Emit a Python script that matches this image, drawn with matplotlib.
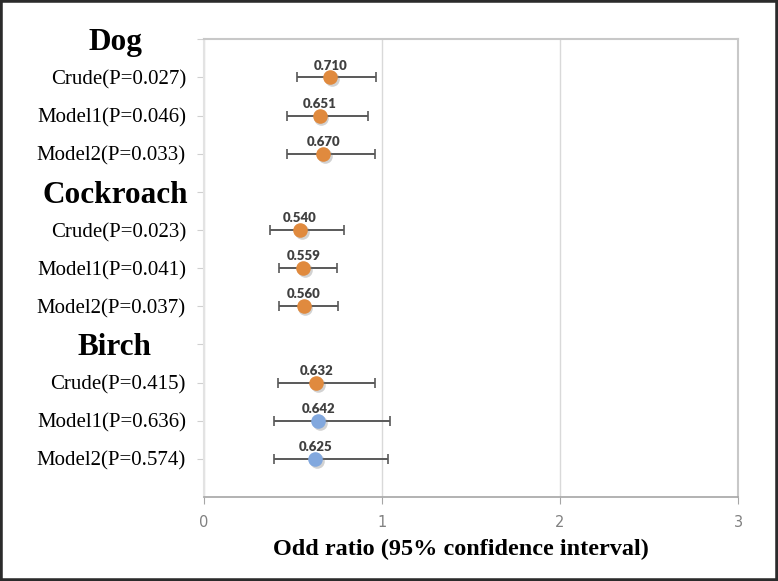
import matplotlib.pyplot as plt
from matplotlib.patches import Rectangle
import matplotlib.transforms as mtransforms

# allergen groups (headers) and rows below them
groups = ['Dog', 'Cockroach', 'Birch']
row_labels = ['Crude(P=0.027)', 'Model1(P=0.046)', 'Model2(P=0.033)',
              'Crude(P=0.023)', 'Model1(P=0.041)', 'Model2(P=0.037)',
              'Crude(P=0.415)', 'Model1(P=0.636)', 'Model2(P=0.574)']
odds = [0.710, 0.651, 0.670, 0.540, 0.559, 0.560, 0.632, 0.642, 0.625]
ci_low = [0.523, 0.464, 0.467, 0.372, 0.422, 0.419, 0.415, 0.393, 0.393]
ci_high = [0.969, 0.920, 0.963, 0.787, 0.746, 0.753, 0.959, 1.047, 1.036]
significant = [True, True, True, True, True, True, True, False, False]

orange = '#E08A3E'
blue = '#82A8DE'

fig = plt.figure(figsize=(7.78, 5.81), dpi=100)
ax = fig.add_axes([0.2622, 0.1446, 0.6864, 0.7878])

# y positions: header of each group on top, 3 rows under it
n_rows = len(groups) * 4
header_y = []
row_y = []
for g in range(len(groups)):
    top = n_rows - g * 4
    header_y.append(top)
    row_y += [top - 1, top - 2, top - 3]

shadow = mtransforms.offset_copy(ax.transData, fig=fig, x=1.5, y=-2, units='dots')

for i in range(len(odds)):
    y = row_y[i]
    ax.errorbar(odds[i], y, xerr=[[odds[i] - ci_low[i]], [ci_high[i] - odds[i]]],
                fmt='none', ecolor='#595959', elinewidth=1.4, capsize=3.5,
                capthick=1.2, zorder=3)
    ax.plot(odds[i], y, 'o', ms=10.5, color='#7f7f7f', alpha=0.35, mec='none',
            transform=shadow, zorder=4)
    ax.plot(odds[i], y, 'o', ms=10.5, color=orange if significant[i] else blue,
            mec='none', zorder=5)
    ax.annotate('%.3f' % odds[i], (odds[i], y), xytext=(0, 8.5),
                textcoords='offset points', ha='center', va='center',
                fontsize=9.5, fontweight='heavy', family='Lato', color='#404040')

for g, name in enumerate(groups):
    ax.text(-0.5, header_y[g], name, ha='center', va='center_baseline',
            fontsize=22.5, fontweight='bold', family='Liberation Serif',
            clip_on=False)

ax.set_xlim(0, 3)
ax.set_ylim(0, n_rows)
ax.set_xticks([0, 1, 2, 3])
ax.set_xticklabels(['0', '1', '2', '3'], color='#808080', fontsize=10.5)
ax.set_yticks(row_y + header_y)
ax.set_yticklabels(row_labels + [''] * len(groups), family='Liberation Serif',
                   fontsize=15)
ax.tick_params(axis='x', length=5, color='#a6a6a6', pad=8)
ax.tick_params(axis='y', length=5, color='#d0d0d0', pad=8)
ax.grid(axis='x', color='#d9d9d9', lw=1)
ax.set_axisbelow(True)
for s in ['top', 'right', 'left']:
    ax.spines[s].set_color('#c8c8c8')
    ax.spines[s].set_linewidth(1.5)
ax.spines['left'].set_color('#e3e3e3')
ax.spines['bottom'].set_color('#a6a6a6')
ax.spines['bottom'].set_linewidth(1.2)

ax.set_xlabel('Odd ratio (95% confidence interval)', family='Liberation Serif',
              fontsize=17.5, fontweight='bold')
ax.xaxis.set_label_coords(0.482, -0.092)

fig.patches.append(Rectangle((0, 0), 1, 1, transform=fig.transFigure,
                             fill=False, ec='#2b2b2b', lw=4))

plt.savefig('out.png', dpi=100)
